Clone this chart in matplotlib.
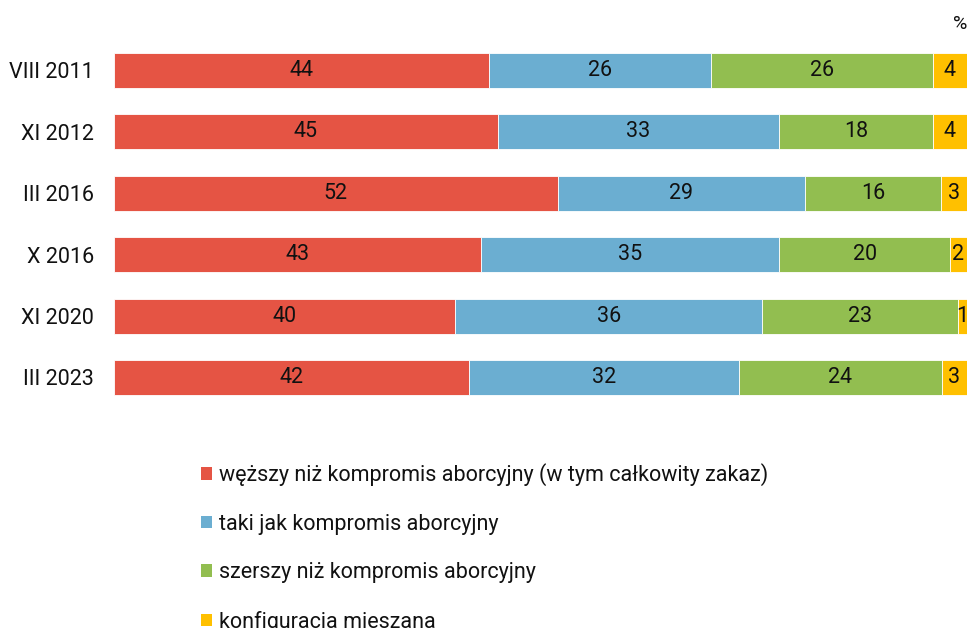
import matplotlib
matplotlib.use("Agg")
import matplotlib.pyplot as plt
import numpy as np
from matplotlib.patches import Patch

plt.rcParams['font.family'] = ['Roboto', 'DejaVu Sans']

categories = ["VIII 2011", "XI 2012", "III 2016", "X 2016", "XI 2020", "III 2023"]
series_names = [
    "węższy niż kompromis aborcyjny (w tym całkowity zakaz)",
    "taki jak kompromis aborcyjny",
    "szerszy niż kompromis aborcyjny",
    "konfiguracja mieszana",
]
narrower = [44, 45, 52, 43, 40, 42]
same = [26, 33, 29, 35, 36, 32]
wider = [26, 18, 16, 20, 23, 24]
mixed = [4, 4, 3, 2, 1, 3]
colors = ["#E55444", "#6BAED1", "#92BE50", "#FFC000"]

data = np.array([narrower, same, wider, mixed], dtype=float)
totals = data.sum(axis=0)
shares = data / totals * 100

fs = 15.5
txtc = '#111111'

fig = plt.figure(figsize=(9.68, 6.28), dpi=100)
ax = fig.add_axes([114/968, 1-408.2/628, 853/968, (408.2-39.8)/628])

y = np.arange(len(categories))
left = np.zeros(len(categories))
for i, (vals, sh) in enumerate(zip(data, shares)):
    bars = ax.barh(y, sh, left=left, height=0.57, color=colors[i],
                   edgecolor='white', linewidth=0.6)
    for j, b in enumerate(bars):
        ax.text(left[j] + sh[j]/2, y[j], f"{int(vals[j])}", ha='center', va='center',
                fontsize=fs, color=txtc)
    left += sh

ax.set_xlim(0, 100)
ax.set_ylim(5.5, -0.5)
ax.set_yticks(y)
ax.set_yticklabels(categories, fontsize=fs, color=txtc)
ax.tick_params(axis='y', length=0, pad=14.5)
ax.set_xticks([])
for s in ax.spines.values():
    s.set_visible(False)

fig.text(960/968, 1-24/628, "%", ha='center', va='center', fontsize=14, color=txtc)

handles = [Patch(facecolor=c, edgecolor='none') for c in colors]
fig.legend(handles, series_names, loc='upper left',
           bbox_to_anchor=(201/968, 1-463/628), frameon=False,
           fontsize=fs, handlelength=0.52, handleheight=0.52,
           handletextpad=0.3, labelspacing=1.28, borderpad=0, borderaxespad=0,
           labelcolor=txtc)

fig.savefig("out.png", dpi=100)
